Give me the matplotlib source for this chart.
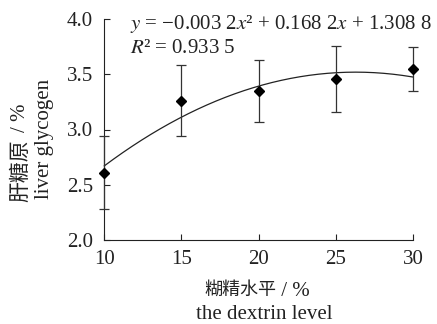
import numpy as np
import matplotlib
matplotlib.use('Agg')
import matplotlib.pyplot as plt

plt.rcParams['font.family'] = ['Liberation Serif', 'Noto Sans CJK SC']
plt.rcParams['mathtext.fontset'] = 'stix'

# Data
dextrin = [10, 15, 20, 25, 30]
glycogen = [2.61, 3.26, 3.35, 3.46, 3.55]
sd = [0.33, 0.32, 0.28, 0.30, 0.20]
coef = [-0.0032, 0.1682, 1.3088]   # quadratic trend line from the label
xticks = [10, 15, 20, 25, 30]
yticks = [2.0, 2.5, 3.0, 3.5, 4.0]

W, H = 437, 324
fig = plt.figure(figsize=(W / 100, H / 100), dpi=100)


def px(x, y):
    # pixel position (from top-left) -> figure fraction
    return x / W, 1 - y / H


ax = fig.add_axes([104.3 / W, 1 - 240 / H, (413 - 104.3) / W, 221 / H])

xs = np.linspace(10, 30, 200)
ax.plot(xs, np.polyval(coef, xs), color='#222222', lw=0.9, clip_on=False)
ax.errorbar(dextrin, glycogen, yerr=sd, fmt='D', color='black', ms=5.5,
            ecolor='#333333', elinewidth=0.9, capsize=3.5, capthick=0.9,
            clip_on=False, zorder=3)

ax.set_xlim(10, 30)
ax.set_ylim(2.0, 4.0)
ax.set_xticks(xticks)
ax.set_yticks(yticks)
ax.set_yticklabels([f'{v:.1f}' for v in yticks])
ax.tick_params(direction='in', length=4, width=0.8, labelsize=15, colors='#222222')
ax.tick_params(axis='y', pad=8)
ax.tick_params(axis='x', pad=7)
for s in ['top', 'right']:
    ax.spines[s].set_visible(False)
for s in ['left', 'bottom']:
    ax.spines[s].set_linewidth(0.8)
    ax.spines[s].set_color('#222222')

# x axis title
fig.text(*px(276, 290), '糊精水平', fontsize=13, ha='right', va='center',
         family='Noto Sans CJK SC', color='#222222')
fig.text(*px(276, 291), ' / %', fontsize=15, ha='left', va='center', color='#222222')
fig.text(*px(264, 319), 'the dextrin level', fontsize=15, ha='center',
         va='baseline', color='#222222')

# y axis title
fig.text(*px(20, 202), '肝糖原', fontsize=15, rotation=90, ha='center', va='bottom',
         family='Noto Sans CJK SC', color='#222222')
fig.text(*px(20.5, 132), '/ %', fontsize=15, rotation=90, ha='center', va='bottom',
         color='#222222')
fig.text(*px(45, 138.5), 'liver glycogen', fontsize=15, rotation=90, ha='center',
         va='center', color='#222222')

# regression label
fig.text(*px(130, 29), r'$y$ = −0.003 2$x$² + 0.168 2$x$ + 1.308 8',
         fontsize=15, ha='left', va='baseline', color='#222222')
fig.text(*px(130, 53), r'$R$² = 0.933 5',
         fontsize=15, ha='left', va='baseline', color='#222222')

fig.savefig('out.png', dpi=100)
